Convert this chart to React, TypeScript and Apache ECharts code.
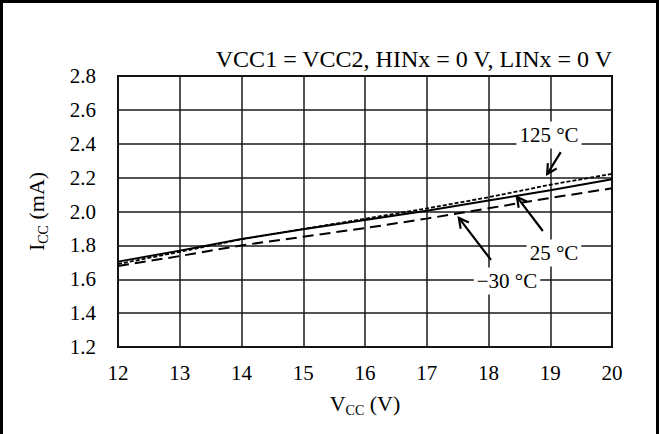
import React, { useEffect, useRef } from "react";
import * as echarts from "echarts";

// Supply voltage VCC (V)
const vccValues = [12, 13, 14, 15, 16, 17, 18, 19, 20];
// Supply current ICC (mA) at three temperatures
const icc25 = [1.704, 1.769, 1.838, 1.895, 1.95, 2.005, 2.065, 2.125, 2.19];
const icc125 = [1.69, 1.762, 1.836, 1.897, 1.957, 2.018, 2.084, 2.158, 2.222];
const iccM30 = [1.678, 1.737, 1.8, 1.851, 1.902, 1.958, 2.019, 2.08, 2.137];

const xMin = 12, xMax = 20, xStep = 1;
const yMin = 1.2, yMax = 2.8, yStep = 0.2;

const titleText = "VCC1 = VCC2, HINx = 0 V, LINx = 0 V";
const seriesNames = ["125 °C", "25 °C", "−30 °C"];

// annotation anchors, in data coordinates
const annLabel = [[18.98, 2.452], [19.06, 1.755], [18.3, 1.59]];
const annFrom = [[19.17, 2.351], [18.88, 1.885], [18.04, 1.714]];
const annTo = [[18.95, 2.221], [18.46, 2.086], [17.52, 1.962]];

const FONT = '"Liberation Serif", "Times New Roman", serif';

function pairs(ys: number[]) {
  return vccValues.map((x, i) => [x, ys[i]]);
}

const nameRich = {
  m: { fontFamily: FONT, fontSize: 22, lineHeight: 28, color: "#000" },
  s: { fontFamily: FONT, fontSize: 14, lineHeight: 4, verticalAlign: "bottom", color: "#000" },
};

export default function App() {
  const ref = useRef<HTMLDivElement>(null);
  useEffect(() => {
    document.body.style.margin = "0";
    const chart = echarts.init(ref.current!, null, { renderer: "svg" });
    chart.setOption({
      animation: false,
      backgroundColor: "#fff",
      grid: {
        left: 118,
        right: 47,
        top: 76,
        bottom: 87,
        show: true,
        borderColor: "#000",
        borderWidth: 2,
        backgroundColor: "transparent",
      },
      xAxis: {
        type: "value",
        min: xMin,
        max: xMax,
        interval: xStep,
        axisLine: { show: false },
        axisTick: { show: false },
        splitLine: { show: true, lineStyle: { color: "#1a1a1a", width: 1.5 } },
        axisLabel: { color: "#000", fontFamily: FONT, fontSize: 21, margin: 15 },
        name: "{m|V}{s|CC}{m| (V)}",
        nameLocation: "middle",
        nameGap: 42,
        nameTextStyle: { fontFamily: FONT, color: "#000", rich: nameRich },
      },
      yAxis: {
        type: "value",
        min: yMin,
        max: yMax,
        interval: yStep,
        axisLine: { show: false },
        axisTick: { show: false },
        splitLine: { show: true, lineStyle: { color: "#1a1a1a", width: 1.5 } },
        axisLabel: {
          color: "#000",
          fontFamily: FONT,
          fontSize: 21,
          margin: 22,
          formatter: (v: number) => v.toFixed(1),
        },
        name: "{m|I}{s|CC}{m| (mA)}",
        nameLocation: "middle",
        nameRotate: 90,
        nameGap: 68,
        nameTextStyle: { fontFamily: FONT, color: "#000", rich: nameRich },
      },
      series: [
        {
          name: seriesNames[0],
          type: "line",
          data: pairs(icc125),
          symbol: "none",
          lineStyle: { color: "#000", width: 1.8, type: [4, 2] },
          z: 3,
        },
        {
          name: seriesNames[1],
          type: "line",
          data: pairs(icc25),
          symbol: "none",
          lineStyle: { color: "#000", width: 2 },
          z: 4,
        },
        {
          name: seriesNames[2],
          type: "line",
          data: pairs(iccM30),
          symbol: "none",
          lineStyle: { color: "#000", width: 2, type: [11, 6] },
          z: 3,
        },
      ],
    });

    const g: any[] = [
      {
        type: "polyline",
        shape: { points: [[1.5, 434], [1.5, 1.5], [657.5, 1.5], [657.5, 434]] },
        style: { stroke: "#000", lineWidth: 3, fill: null },
        z: 100,
      },
      {
        type: "text",
        x: 612,
        y: 59,
        style: {
          text: titleText,
          fontFamily: FONT,
          fontSize: 24,
          fill: "#000",
          align: "right",
          verticalAlign: "middle",
        },
        z: 100,
      },
    ];
    for (let i = 0; i < seriesNames.length; i++) {
      const lp = chart.convertToPixel({ gridIndex: 0 }, annLabel[i]) as number[];
      const p0 = chart.convertToPixel({ gridIndex: 0 }, annFrom[i]) as number[];
      const p1 = chart.convertToPixel({ gridIndex: 0 }, annTo[i]) as number[];
      const dx = p1[0] - p0[0], dy = p1[1] - p0[1];
      const len = Math.hypot(dx, dy);
      const ux = dx / len, uy = dy / len;
      const hl = 11, ang = (28 * Math.PI) / 180;
      const c = Math.cos(ang), s = Math.sin(ang);
      const h1 = [p1[0] - hl * (ux * c - uy * s), p1[1] - hl * (ux * s + uy * c)];
      const h2 = [p1[0] - hl * (ux * c + uy * s), p1[1] - hl * (-ux * s + uy * c)];
      g.push({
        type: "text",
        x: lp[0],
        y: lp[1],
        style: {
          text: seriesNames[i],
          fontFamily: FONT,
          fontSize: 21,
          fill: "#000",
          align: "center",
          verticalAlign: "middle",
          backgroundColor: "#fff",
          padding: [3, 3],
        },
        z: 50,
      });
      g.push({
        type: "line",
        shape: { x1: p0[0], y1: p0[1], x2: p1[0], y2: p1[1] },
        style: { stroke: "#000", lineWidth: 2.2 },
        z: 50,
      });
      g.push({
        type: "polyline",
        shape: { points: [h1, p1, h2] },
        style: { stroke: "#000", lineWidth: 2.2, fill: null },
        z: 50,
      });
    }
    chart.setOption({ graphic: g });
    return () => chart.dispose();
  }, []);
  return (
    <div
      ref={ref}
      style={{ position: "fixed", left: 0, top: 0, width: 659, height: 434 }}
    />
  );
}
